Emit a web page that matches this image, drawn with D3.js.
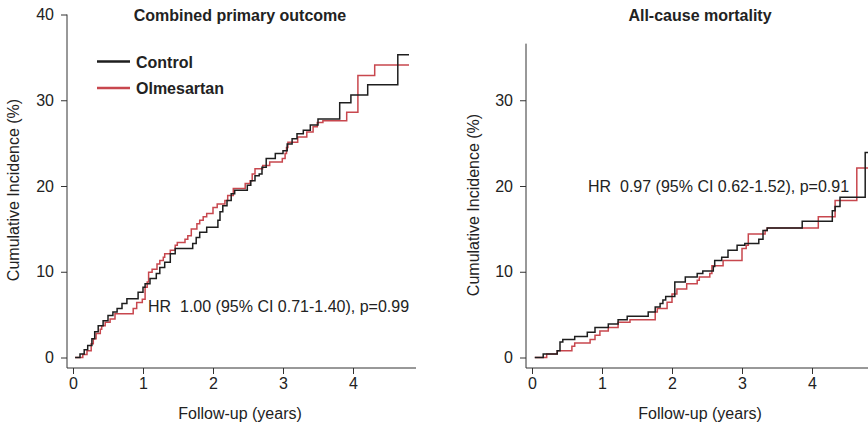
<!DOCTYPE html>
<html>
<head>
<meta charset="utf-8">
<script src="https://cdn.jsdelivr.net/npm/d3@7"></script>
<style>
  body { margin: 0; background: #fff; }
  text { font-family: "Liberation Sans", Arial, Helvetica, sans-serif; fill: #222; }
</style>
</head>
<body>
<script>
const width = 868;
const height = 429;

// tick labels
var xTicks = [0, 1, 2, 3, 4];
var yTicksPrimary = [0, 10, 20, 30, 40];
var yTicksMortality = [0, 10, 20, 30];

// combined primary outcome, cumulative incidence (%) by follow-up year
var primaryControlT = [0.03,0.10,0.16,0.21,0.27,0.31,0.36,0.43,0.50,0.57,0.63,0.70,0.77,0.93,1.00,1.03,1.10,1.19,1.24,1.31,1.39,1.46,1.71,1.76,1.81,1.91,2.07,2.10,2.14,2.20,2.26,2.31,2.49,2.54,2.60,2.66,2.70,2.76,2.89,3.00,3.06,3.13,3.20,3.29,3.39,3.50,3.81,3.97,4.21,4.64,4.80];
var primaryControlV = [0,0.4,0.9,1.4,2.2,3.0,3.7,4.3,4.9,5.3,5.7,6.3,6.85,7.6,8.2,8.6,9.2,9.8,10.5,11.1,12.1,12.7,13.3,14.0,14.6,15.2,16.0,17.0,17.7,18.3,19.1,19.5,20.1,20.6,21.2,21.4,22.2,23.2,23.8,24.1,24.9,25.5,26.1,26.5,27.1,27.8,29.7,30.6,31.8,35.3,35.3];
var primaryOlmeT = [0.03,0.14,0.20,0.26,0.29,0.33,0.39,0.41,0.46,0.53,0.60,0.86,0.91,0.99,1.03,1.06,1.08,1.13,1.20,1.24,1.29,1.31,1.39,1.46,1.49,1.60,1.64,1.69,1.77,1.81,1.86,1.91,2.00,2.06,2.17,2.21,2.29,2.46,2.53,2.56,2.60,2.71,2.81,2.99,3.03,3.05,3.07,3.21,3.34,3.43,3.49,3.57,3.91,4.07,4.31,4.80];
var primaryOlmeV = [0,0.35,0.8,1.6,2.2,2.8,3.3,3.7,4.1,4.5,5.1,5.7,6.4,6.8,8.2,8.8,9.95,10.3,10.9,11.3,11.7,12.1,12.5,13.1,13.4,13.8,14.2,15.0,15.6,16.0,16.4,16.8,17.5,17.9,18.3,18.9,19.7,20.3,20.6,21.4,22.0,22.4,22.8,23.2,23.8,24.5,25.1,25.7,26.3,26.9,27.4,27.6,28.6,32.9,34.1,34.1];

// all-cause mortality
var mortalityControlT = [0.04,0.16,0.36,0.40,0.44,0.61,0.79,0.90,1.09,1.23,1.36,1.66,1.76,1.83,1.87,1.91,2.04,2.19,2.36,2.44,2.59,2.61,2.71,2.80,2.93,3.04,3.24,3.30,3.36,3.86,4.29,4.33,4.40,4.76,4.95];
var mortalityControlV = [0,0.4,0.8,1.8,2.1,2.45,2.95,3.5,3.9,4.4,4.8,5.3,5.9,6.3,6.7,7.1,8.8,9.4,9.8,10.1,10.6,11.3,11.7,12.5,13.1,13.3,13.8,14.8,15.1,15.9,17.1,17.6,18.7,23.9,23.9];
var mortalityOlmeT = [0.04,0.21,0.36,0.57,0.61,0.83,0.90,0.97,1.09,1.23,1.40,1.76,1.79,1.93,2.00,2.07,2.21,2.36,2.39,2.54,2.57,2.73,3.00,3.06,3.09,3.33,3.36,4.09,4.33,4.64,4.95];
var mortalityOlmeV = [0,0.4,0.8,1.3,1.7,2.1,2.6,3.1,3.5,4.1,4.4,5.3,5.7,6.45,7.4,8.0,8.6,9.0,9.4,9.8,10.7,11.3,12.7,13.1,14.4,14.8,15.1,16.4,18.3,22.1,22.1];

var groups = ["Control", "Olmesartan"];
var colors = {"Control": "#1e1e1e", "Olmesartan": "#c8474e"};

var svg = d3.select("body")
 .append("svg")
 .attr("width", width)
 .attr("height", height);

// shared y scale, one x scale per panel
var yscale = d3.scaleLinear().domain([0, 40]).range([357.5, 14.5]);
var xLeft = d3.scaleLinear().domain([0, 4]).range([73, 353]);
var xRight = d3.scaleLinear().domain([0, 4]).range([532, 812]);

var axisY = 368; // baseline of x axes
var axisColor = "#333";

function zip(t, v) {
  return t.map(function(d, i) { return {t: d, v: v[i]}; });
}

function drawPanel(opts) {
  var xs = opts.x;

  // y axis
  var gy = svg.append("g")
   .attr("transform", "translate(" + opts.yAxisX + ",0)")
   .call(d3.axisLeft(yscale).tickValues(opts.yTicks).tickFormat(d3.format("d")).tickSize(6).tickPadding(7));
  gy.select(".domain").remove();
  gy.append("line")
   .attr("x1", 0).attr("x2", 0)
   .attr("y1", yscale(opts.yTop)).attr("y2", axisY)
   .attr("stroke", axisColor);

  // x axis
  var gx = svg.append("g")
   .attr("transform", "translate(0," + axisY + ")")
   .call(d3.axisBottom(xs).tickValues(xTicks).tickFormat(d3.format("d")).tickSize(6).tickPadding(4));
  gx.select(".domain").remove();
  gx.append("line")
   .attr("x1", opts.yAxisX).attr("x2", opts.xEnd)
   .attr("y1", 0).attr("y2", 0)
   .attr("stroke", axisColor);

  [gx, gy].forEach(function(g) {
    g.selectAll(".tick line").attr("stroke", axisColor);
    g.selectAll("text").style("font-size", "16px").attr("fill", "#222")
     .style("font-family", "'Liberation Sans', Arial, sans-serif");
  });

  // step curves
  var line = d3.line()
   .x(function(d) { return xs(d.t); })
   .y(function(d) { return yscale(d.v); })
   .curve(d3.curveStepAfter);

  opts.series.forEach(function(s) {
    svg.append("path")
     .datum(s.data)
     .attr("fill", "none")
     .attr("stroke", colors[s.name])
     .attr("stroke-width", 1.5)
     .attr("d", line);
  });

  // titles and labels
  svg.append("text")
   .attr("x", opts.titleX).attr("y", 21)
   .attr("text-anchor", "middle")
   .style("font-size", "16px").style("font-weight", "bold")
   .text(opts.title);

  svg.append("text")
   .attr("x", opts.titleX).attr("y", 419)
   .attr("text-anchor", "middle")
   .style("font-size", "16px")
   .text("Follow-up (years)");

  svg.append("text")
   .attr("transform", "translate(" + opts.ylabX + "," + opts.ylabY + ") rotate(-90)")
   .attr("text-anchor", "middle")
   .style("font-size", "16px")
   .text("Cumulative Incidence (%)");

  svg.append("text")
   .attr("x", opts.hrX).attr("y", opts.hrY)
   .style("font-size", "16px")
   .attr("xml:space", "preserve")
   .text(opts.hr);
}

drawPanel({
  x: xLeft, yAxisX: 67, xEnd: 416, yTop: 40, yTicks: yTicksPrimary,
  title: "Combined primary outcome", titleX: 240,
  ylabX: 19, ylabY: 190,
  hr: "HR  1.00 (95% CI 0.71-1.40), p=0.99", hrX: 148, hrY: 312,
  series: [
    {name: "Olmesartan", data: zip(primaryOlmeT, primaryOlmeV)},
    {name: "Control", data: zip(primaryControlT, primaryControlV)}
  ]
});

drawPanel({
  x: xRight, yAxisX: 526, xEnd: 868, yTop: 36.6, yTicks: yTicksMortality,
  title: "All-cause mortality", titleX: 700,
  ylabX: 479, ylabY: 205,
  hr: "HR  0.97 (95% CI 0.62-1.52), p=0.91", hrX: 588, hrY: 192,
  series: [
    {name: "Olmesartan", data: zip(mortalityOlmeT, mortalityOlmeV)},
    {name: "Control", data: zip(mortalityControlT, mortalityControlV)}
  ]
});

// legend
var legend = svg.append("g");
groups.forEach(function(g, i) {
  var ly = 61.5 + i * 26.5;
  legend.append("line")
   .attr("x1", 97).attr("x2", 130)
   .attr("y1", ly).attr("y2", ly)
   .attr("stroke", colors[g])
   .attr("stroke-width", 2.5);
  legend.append("text")
   .attr("x", 136).attr("y", ly + 6)
   .style("font-size", "16px").style("font-weight", "bold")
   .text(g);
});
</script>
</body>
</html>
